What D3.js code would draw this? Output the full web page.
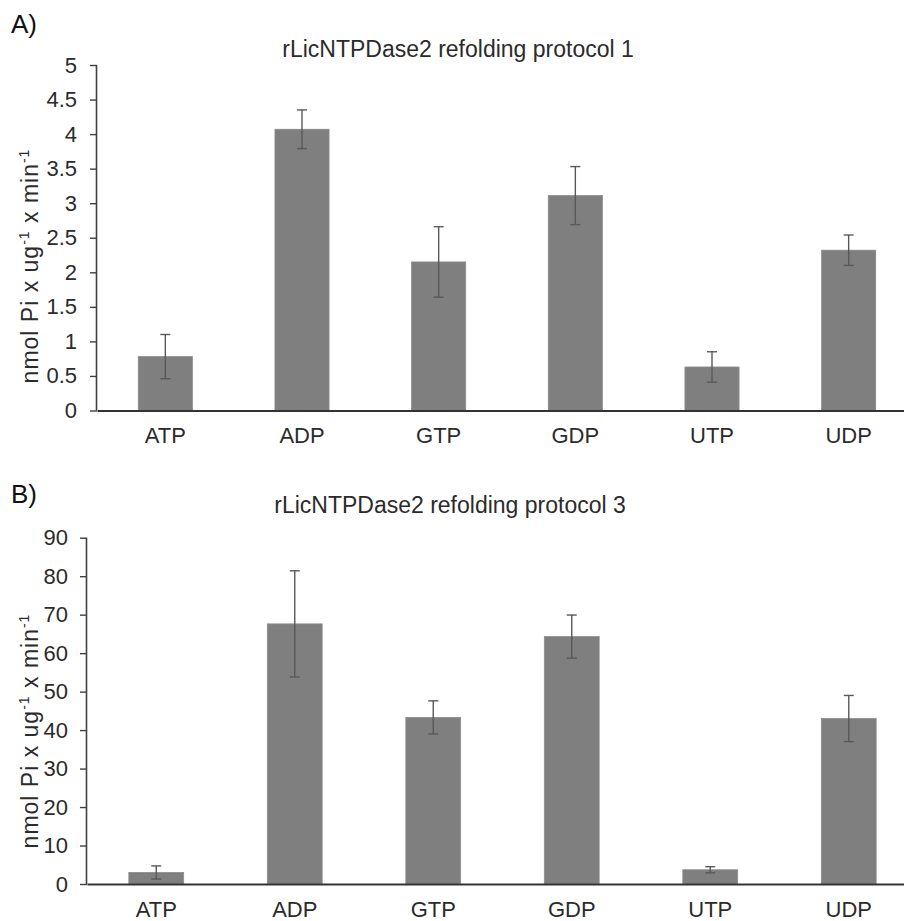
<!DOCTYPE html>
<html>
<head>
<meta charset="utf-8">
<script src="https://cdn.jsdelivr.net/npm/d3@7"></script>
<style>
  body { margin: 0; background: #fff; }
  svg { display: block; font-family: Arial, "Liberation Sans", sans-serif; }
</style>
</head>
<body>
<svg id="chart" width="904" height="921"></svg>
<script>
// nucleotide substrates on the x axis
const categories = ['ATP', 'ADP', 'GTP', 'GDP', 'UTP', 'UDP'];

// panel A: refolding protocol 1
const protocol1Values = [0.78, 4.07, 2.15, 3.11, 0.63, 2.32];
const protocol1Errors = [0.32, 0.28, 0.51, 0.42, 0.22, 0.22];
const protocol1Ticks = [0, 0.5, 1, 1.5, 2, 2.5, 3, 3.5, 4, 4.5, 5];

// panel B: refolding protocol 3
const protocol3Values = [3.0, 67.6, 43.3, 64.3, 3.7, 43.0];
const protocol3Errors = [1.7, 13.8, 4.3, 5.6, 0.8, 6.0];
const protocol3Ticks = [0, 10, 20, 30, 40, 50, 60, 70, 80, 90];

const svg = d3.select('#chart');
const textColor = '#2b2b2b';

function drawPanel(panel) {
  const x = d3.scaleBand()
    .domain(categories)
    .range([panel.left, panel.right])
    .paddingInner(0.604)
    .paddingOuter(0.302);

  const y = d3.scaleLinear()
    .domain([0, d3.max(panel.ticks)])
    .range([panel.bottom, panel.top]);

  const g = svg.append('g');

  // panel letter
  g.append('text')
    .attr('x', 11)
    .attr('y', panel.letterY)
    .attr('font-size', 26)
    .attr('fill', '#111')
    .text(panel.letter);

  // chart title
  g.append('text')
    .attr('x', panel.titleX)
    .attr('y', panel.titleY)
    .attr('text-anchor', 'middle')
    .attr('font-size', 23)
    .attr('fill', textColor)
    .text(panel.title);

  // bars
  g.selectAll('rect.bar')
    .data(panel.values)
    .join('rect')
    .attr('class', 'bar')
    .attr('x', (d, i) => x(categories[i]))
    .attr('y', (d) => y(d))
    .attr('width', x.bandwidth())
    .attr('height', (d) => y(0) - y(d))
    .attr('fill', '#7f7f7f')
    .attr('stroke', '#8c8c8c')
    .attr('stroke-width', 0.8);

  // error bars
  const errors = panel.values.map((v, i) => ({ cat: categories[i], lo: v - panel.errors[i], hi: v + panel.errors[i] }));
  const eg = g.append('g')
    .attr('stroke', '#595959')
    .attr('stroke-width', 1.4)
    .attr('fill', 'none');

  errors.forEach((e) => {
    const cx = x(e.cat) + x.bandwidth() / 2;
    eg.append('line')
      .attr('x1', cx).attr('x2', cx)
      .attr('y1', y(e.lo)).attr('y2', y(e.hi));
    [e.lo, e.hi].forEach((v) => {
      eg.append('line')
        .attr('x1', cx - 5).attr('x2', cx + 5)
        .attr('y1', y(v)).attr('y2', y(v));
    });
  });

  // y axis
  const yAxis = g.append('g')
    .attr('transform', `translate(${panel.left},0)`)
    .call(d3.axisLeft(y)
      .tickValues(panel.ticks)
      .tickSize(7)
      .tickPadding(panel.tickPad)
      .tickFormat((d) => d3.format('')(d)));

  yAxis.select('.domain')
    .attr('stroke', '#404040')
    .attr('stroke-width', 1.6)
    .attr('d', `M-0.5,${panel.top}V${panel.bottom}`);
  yAxis.selectAll('.tick line')
    .attr('stroke', '#404040')
    .attr('stroke-width', 1.4);
  yAxis.selectAll('.tick text')
    .attr('font-size', 22)
    .attr('fill', textColor);

  // x axis baseline and category labels
  const xAxis = g.append('g')
    .attr('transform', `translate(0,${panel.bottom})`)
    .call(d3.axisBottom(x).tickSize(0).tickPadding(panel.labelPad));

  xAxis.select('.domain')
    .attr('stroke', '#333')
    .attr('stroke-width', 2);
  xAxis.selectAll('.tick text')
    .attr('font-size', 22)
    .attr('fill', textColor);

  // y axis title with superscripts
  const yTitle = g.append('text')
    .attr('transform', `translate(${panel.yTitleX},${panel.yTitleY}) rotate(-90)`)
    .attr('text-anchor', 'middle')
    .attr('font-size', 23)
    .attr('letter-spacing', 1)
    .attr('fill', textColor);

  yTitle.append('tspan').text('nmol Pi x ug');
  yTitle.append('tspan').attr('font-size', 14).attr('dy', -9).text('-1');
  yTitle.append('tspan').attr('dy', 9).text(' x min');
  yTitle.append('tspan').attr('font-size', 14).attr('dy', -9).text('-1');
}

drawPanel({
  letter: 'A)', letterY: 33,
  title: 'rLicNTPDase2 refolding protocol 1', titleX: 458, titleY: 57,
  values: protocol1Values, errors: protocol1Errors, ticks: protocol1Ticks,
  left: 97, right: 917, top: 65, bottom: 410.5,
  labelPad: 17, tickPad: 13, yTitleX: 38, yTitleY: 266
});

drawPanel({
  letter: 'B)', letterY: 503,
  title: 'rLicNTPDase2 refolding protocol 3', titleX: 450, titleY: 513,
  values: protocol3Values, errors: protocol3Errors, ticks: protocol3Ticks,
  left: 87, right: 918, top: 537.7, bottom: 884,
  labelPad: 17, tickPad: 12, yTitleX: 38, yTitleY: 731
});
</script>
</body>
</html>
